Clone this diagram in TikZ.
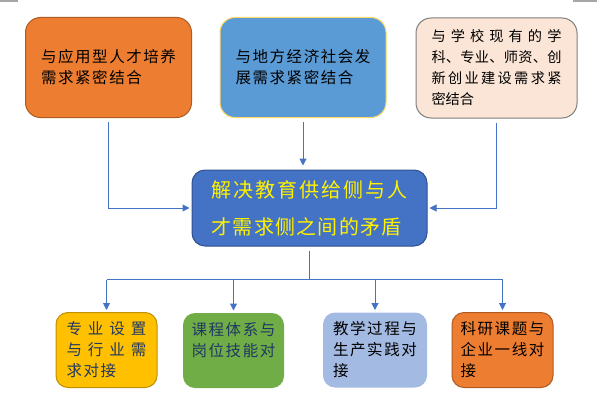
\documentclass[tikz,border=0pt]{standalone}
\usepackage{fontspec}
\newfontfamily\cjk{Noto Sans CJK SC}
\newfontfamily\cjkls[LetterSpace=10]{Noto Sans CJK SC}
\usetikzlibrary{arrows.meta}
\definecolor{orangeF}{HTML}{ED7D31}
\definecolor{orangeD}{HTML}{AE5A21}
\definecolor{blueF}{HTML}{5B9BD5}
\definecolor{yellowB}{HTML}{FFD966}
\definecolor{peachF}{HTML}{FBE5D6}
\definecolor{grayB}{HTML}{7F7F7F}
\definecolor{centerF}{HTML}{4472C4}
\definecolor{centerD}{HTML}{2F528F}
\definecolor{goldF}{HTML}{FFC000}
\definecolor{goldD}{HTML}{BF9000}
\definecolor{greenF}{HTML}{70AD47}
\definecolor{lblueF}{HTML}{A3BAE2}
\definecolor{navyT}{HTML}{1F3864}
\definecolor{lineC}{HTML}{4472C4}
\definecolor{markG}{HTML}{A6A6A6}
\def\sprdaux#1#2{#1\ifx\relax#2\else\hfill\expandafter\sprdaux\expandafter#2\fi}
\newcommand\sprd[2]{\leavevmode\hbox to #1{\sprdaux#2\relax}}
\tikzset{
  topbox/.style={rounded corners=15pt, line width=1pt, inner sep=0pt, align=left,
    minimum width=166pt, minimum height=100pt,
    font=\cjkls\fontsize{15.5}{21}\selectfont},
  botbox/.style={rounded corners=12pt, line width=1pt, inner sep=0pt, align=left,
    minimum width=101pt, minimum height=75pt,
    font=\cjkls\fontsize{15.5}{21}\selectfont},
  midbox/.style={rounded corners=13pt, line width=1pt, inner sep=0pt, align=left,
    minimum width=235pt, minimum height=76pt,
    font=\cjk\fontsize{20}{37}\selectfont},
  wire/.style={draw=lineC, line width=1pt},
  conn/.style={wire, -{Triangle[width=7pt,length=7pt]}}
}
\begin{document}
\begin{tikzpicture}[x=1pt,y=-1pt]
\useasboundingbox (0,0) rectangle (599,412);
\fill[markG] (0,0) rectangle (18,1.7);
\fill[markG] (573,0) rectangle (597,2);

\node[topbox, fill=orangeF, draw=orangeD] (top1) at (108.5,67.5)
  {与应用型人才培养\\需求紧密结合};
\node[topbox, fill=blueF, draw=yellowB] (top2) at (303,67.5)
  {与地方经济社会发\\展需求紧密结合};
\node[topbox, fill=peachF, draw=grayB, minimum width=161pt,
  font=\cjk\fontsize{14.2}{21}\selectfont] (top3) at (496.5,68)
  {\sprd{130pt}{与学校现有的学}\\\sprd{130pt}{科、专业、师资、创}\\\sprd{130pt}{新创业建设需求紧}\\密结合};

\node[midbox, fill=centerF, draw=centerD, text=yellow] (mid) at (309.5,208)
  {\sprd{196pt}{解决教育供给侧与人}\\\sprd{190pt}{才需求侧之间的矛盾}};

\node[botbox, fill=goldF, draw=goldD, text=navyT] (bot1) at (106.5,350)
  {\sprd{80pt}{专业设置}\\\sprd{80pt}{与行业需}\\求对接};
\node[botbox, fill=greenF, text=navyT] (bot2) at (233.5,350.5)
  {课程体系与\\岗位技能对\\\mbox{}};
\node[botbox, fill=lblueF, minimum width=104pt] (bot3) at (375,350)
  {教学过程与\\生产实践对\\接};
\node[botbox, fill=orangeF, draw=orangeD] (bot4) at (502.5,350)
  {科研课题与\\企业一线对\\接};

\draw[conn] ([yshift=-4pt]top1.south) |- ([xshift=-2pt]mid.west);
\draw[conn] ([yshift=-4pt]top2.south) -- ([yshift=4pt]top2.south |- mid.north);
\draw[conn] ([yshift=-4pt]top3.south) |- ([xshift=2pt]mid.east);

\coordinate (bus) at ([yshift=-33pt]mid.south);
\draw[wire] ([yshift=-4pt]mid.south) -- (bus);
\draw[wire] (bot1.north |- bus) -- (bot4.north |- bus);
\foreach \n in {bot1,bot2,bot3,bot4}
  \draw[conn] (\n.north |- bus) -- ([yshift=2pt]\n.north);
\end{tikzpicture}
\end{document}
